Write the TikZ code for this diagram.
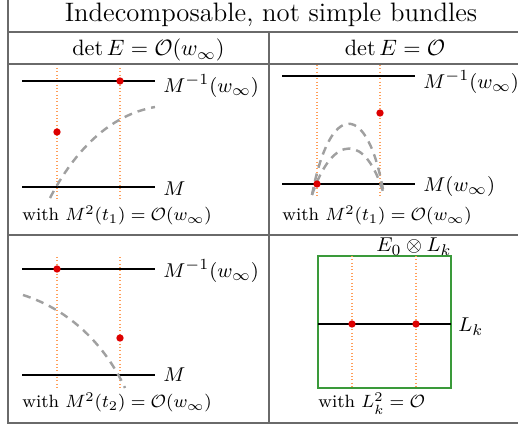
\documentclass[tikz,border=0pt]{standalone}
\definecolor{gridgray}{HTML}{6A6A6A}
\definecolor{curvegray}{HTML}{A0A0A0}
\definecolor{guideorange}{HTML}{FF9F5A}
\definecolor{dotred}{HTML}{DD0000}
\definecolor{boxgreen}{HTML}{3A9A3A}
\begin{document}
\begin{tikzpicture}[x=0.45pt,y=-0.45pt,
  grid/.style={draw=gridgray,line width=0.9pt},
  level/.style={draw=black,line width=0.9pt},
  guide/.style={draw=guideorange,dash pattern=on 0.5pt off 1pt,line width=0.5pt},
  curvy/.style={draw=curvegray,dash pattern=on 3.6pt off 2.7pt,line width=1.1pt},
  pt/.style={circle,fill=dotred,inner sep=0pt,minimum size=3.3pt},
  lab/.style={anchor=base west,inner sep=0pt,font=\fontsize{9.5}{11}\selectfont},
  captext/.style={anchor=base west,inner sep=0pt,font=\footnotesize}]
\useasboundingbox (0,0) rectangle (518,427);
% table grid
\coordinate (gTL) at (8.5,0);
\coordinate (gBL) at (8.5,423);
\coordinate (gBR) at (518,423);
\coordinate (gM1) at (269,32);
\coordinate (gM2) at (269,423);
\draw[grid] (gTL) -- (gBL) -- (gBR);
\draw[grid] (gM1) -- (gM2);
\coordinate (h1a) at (8.5,32);  \coordinate (h1b) at (518,32);
\coordinate (h2a) at (8.5,64);  \coordinate (h2b) at (518,64);
\coordinate (h3a) at (8.5,235); \coordinate (h3b) at (518,235);
\draw[grid] (h1a) -- (h1b);
\draw[grid] (h2a) -- (h2b);
\draw[grid] (h3a) -- (h3b);
% headers
\node[anchor=base,inner sep=0pt,font=\large] (title) at (271,22) {Indecomposable, not simple bundles};
\node[anchor=base,inner sep=0pt] (hleft) at (148.5,56) {$\det E=\mathcal{O}(w_\infty)$};
\node[anchor=base,inner sep=0pt] (hright) at (395,56) {$\det E=\mathcal{O}$};

% ---------- top-left panel
\coordinate (a1) at (57,68);  \coordinate (a2) at (57,200);
\coordinate (b1) at (120,68); \coordinate (b2) at (120,200);
\draw[guide] (a1) -- (a2);
\draw[guide] (b1) -- (b2);
\coordinate (tl1) at (22,81);  \coordinate (tl2) at (155,81);
\coordinate (bl1) at (22,187); \coordinate (bl2) at (155,187);
\draw[level] (tl1) -- (tl2);
\draw[level] (bl1) -- (bl2);
\coordinate (c1s) at (50,198); \coordinate (c1e) at (155,107);
\draw[curvy] (c1s) .. controls (75,150) and (110,115) .. (c1e);
\node[pt] (p1) at (120,81) {};
\node[pt] (p2) at (57,132) {};
\node[lab] (l1) at (163,93) {$M^{-1}(w_\infty)$};
\node[lab] (l2) at (163,196) {$M$};
\node[captext] (cap1) at (22,221) {with $M^2(t_1)=\mathcal{O}(w_\infty)$};

% ---------- top-right panel
\coordinate (d1) at (317,65);  \coordinate (d2) at (317,197);
\coordinate (e1) at (380,65);  \coordinate (e2) at (380,197);
\draw[guide] (d1) -- (d2);
\draw[guide] (e1) -- (e2);
\coordinate (tr1) at (282,76);  \coordinate (tr2) at (415,76);
\coordinate (br1) at (282,184); \coordinate (br2) at (415,184);
\draw[level] (tr1) -- (tr2);
\draw[level] (br1) -- (br2);
\coordinate (arcs) at (312,195); \coordinate (arce) at (384,195);
\draw[curvy] (arcs) .. controls (330,100) and (368,100) .. (arce);
\draw[curvy] (arcs) .. controls (333,133) and (366,133) .. (arce);
\node[pt] (p3) at (380,113) {};
\node[pt] (p4) at (317,184) {};
\node[lab] (l3) at (423,89) {$M^{-1}(w_\infty)$};
\node[lab] (l4) at (423,192) {$M(w_\infty)$};
\node[captext] (cap2) at (282,221) {with $M^2(t_1)=\mathcal{O}(w_\infty)$};

% ---------- bottom-left panel
\coordinate (f1) at (57,257);  \coordinate (f2) at (57,389);
\coordinate (g1) at (120,257); \coordinate (g2) at (120,389);
\draw[guide] (f1) -- (f2);
\draw[guide] (g1) -- (g2);
\coordinate (tb1) at (22,269);  \coordinate (tb2) at (155,269);
\coordinate (bb1) at (22,375);  \coordinate (bb2) at (155,375);
\draw[level] (tb1) -- (tb2);
\draw[level] (bb1) -- (bb2);
\coordinate (c3s) at (23,295); \coordinate (c3e) at (125,388);
\draw[curvy] (c3s) .. controls (70,310) and (105,345) .. (c3e);
\node[pt] (p5) at (57,269) {};
\node[pt] (p6) at (120,338) {};
\node[lab] (l5) at (163,278) {$M^{-1}(w_\infty)$};
\node[lab] (l6) at (163,382) {$M$};
\node[captext] (cap3) at (22,408) {with $M^2(t_2)=\mathcal{O}(w_\infty)$};

% ---------- bottom-right panel
\coordinate (r1) at (318,256); \coordinate (r2) at (451,388);
\draw[draw=boxgreen,line width=0.7pt] (r1) rectangle (r2);
\coordinate (k1) at (352,256); \coordinate (k2) at (352,388);
\coordinate (m1) at (416,256); \coordinate (m2) at (416,388);
\draw[guide] (k1) -- (k2);
\draw[guide] (m1) -- (m2);
\coordinate (lk1) at (318,324); \coordinate (lk2) at (451,324);
\draw[level] (lk1) -- (lk2);
\node[pt] (p7) at (352,324) {};
\node[pt] (p8) at (416,324) {};
\node[lab,anchor=base east] (l7) at (452,252) {$E_0\otimes L_k$};
\node[lab] (l8) at (458,332) {$L_k$};
\node[captext] (cap4) at (318,408) {with $L_k^2=\mathcal{O}$};
\end{tikzpicture}
\end{document}
